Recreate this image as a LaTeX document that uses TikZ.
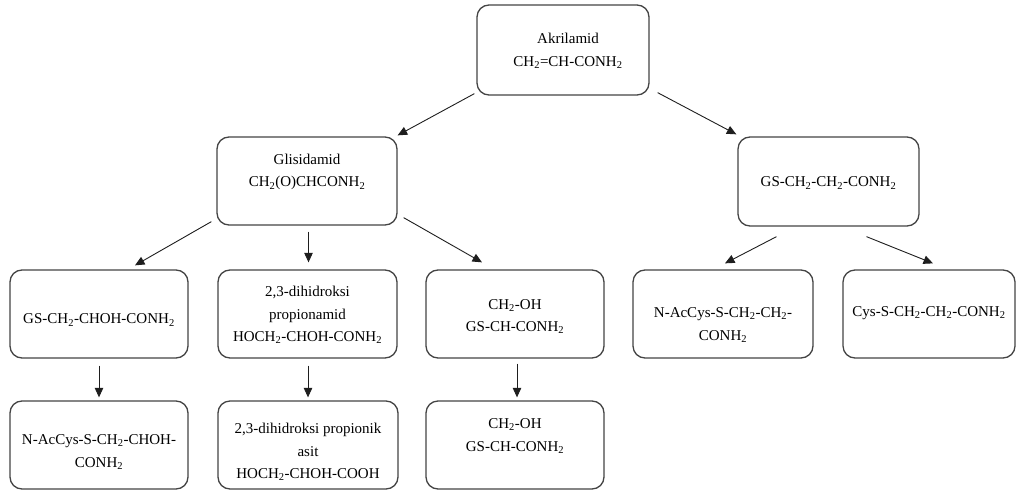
\documentclass[tikz,border=0pt]{standalone}
\usepackage{fontspec}
\setmainfont{Liberation Serif}
\usetikzlibrary{arrows.meta}
\newcommand\sbs[1]{\textsubscript{#1}}
\definecolor{boxgray}{HTML}{444444}
\definecolor{arrgray}{HTML}{1E1E1E}
\begin{document}
\begin{tikzpicture}[x=1pt,y=-1pt,
  box/.style={draw=boxgray, line width=1.3pt, rounded corners=12pt, inner sep=0pt, minimum height=88pt},
  txt/.style={align=center, font=\fontsize{15}{22.5}\selectfont, inner sep=0pt},
  arr/.style={draw=arrgray, line width=0.9pt, -{Triangle[length=9.5pt,width=8.5pt]}}]
\useasboundingbox (0,0) rectangle (1019,492);
% boxes
\node[box, minimum width=172pt, minimum height=90pt] (akr) at (563,50) {};
\node[box, minimum width=180pt] (gli) at (307,181) {};
\node[box, minimum width=181pt, minimum height=89pt] (gsr) at (828.5,181.5) {};
\node[box, minimum width=178pt] (r2a) at (99,314) {};
\node[box, minimum width=179pt] (r2b) at (307.5,314) {};
\node[box, minimum width=178pt] (r2c) at (515,314) {};
\node[box, minimum width=180pt] (r2d) at (723,314) {};
\node[box, minimum width=172pt] (r2e) at (929,314) {};
\node[box, minimum width=178pt] (r3a) at (99,445) {};
\node[box, minimum width=180pt] (r3b) at (308,445) {};
\node[box, minimum width=178pt] (r3c) at (515,445) {};
% texts
\node[txt] (akr-t) at ([xshift=5pt,yshift=-1pt]akr.center) {Akrilamid\\CH\sbs{2}=CH-CONH\sbs{2}};
\node[txt] (gli-t) at ([yshift=9pt]gli.center) {Glisidamid\\CH\sbs{2}(O)CHCONH\sbs{2}};
\node[txt] (gsr-t) at ([yshift=-1.5pt]gsr.center) {GS-CH\sbs{2}-CH\sbs{2}-CONH\sbs{2}};
\node[txt] (r2a-t) at ([yshift=-6pt]r2a.center) {GS-CH\sbs{2}-CHOH-CONH\sbs{2}};
\node[txt] (r2b-t) at ([yshift=-1pt]r2b.center) {2,3-dihidroksi\\propionamid\\HOCH\sbs{2}-CHOH-CONH\sbs{2}};
\node[txt] (r2c-t) at ([yshift=-2.5pt]r2c.center) {CH\sbs{2}-OH\\GS-CH-CONH\sbs{2}};
\node[txt] (r2d-t) at ([yshift=-11pt]r2d.center) {N-AcCys-S-CH\sbs{2}-CH\sbs{2}-\\CONH\sbs{2}};
\node[txt] (r2e-t) at ([yshift=1pt]r2e.center) {Cys-S-CH\sbs{2}-CH\sbs{2}-CONH\sbs{2}};
\node[txt] (r3a-t) at ([yshift=-7pt]r3a.center) {N-AcCys-S-CH\sbs{2}-CHOH-\\CONH\sbs{2}};
\node[txt] (r3b-t) at ([yshift=-7pt]r3b.center) {2,3-dihidroksi propionik\\asit\\HOCH\sbs{2}-CHOH-COOH};
\node[txt] (r3c-t) at ([yshift=9pt]r3c.center) {CH\sbs{2}-OH\\GS-CH-CONH\sbs{2}};
% arrows
\draw[arr] ([xshift=-2pt,yshift=2pt]akr.south west) -- ([yshift=1pt]gli.north east);
\draw[arr] ([xshift=8pt,yshift=3pt]akr.south east) -- ([xshift=-1pt,yshift=2pt]gsr.north west);
\draw[arr] ([xshift=-5pt,yshift=4pt]gli.south west) -- ([xshift=36pt,yshift=4pt]r2a.north);
\draw[arr] ([xshift=1.5pt,yshift=-6pt]gli.south) -- ([xshift=1pt,yshift=7pt]r2b.north);
\draw[arr] ([xshift=6pt,yshift=8pt]gli.south east) -- ([xshift=-33pt,yshift=7pt]r2c.north);
\draw[arr] ([xshift=-52pt,yshift=-10pt]gsr.south) -- ([xshift=2pt,yshift=6pt]r2d.north);
\draw[arr] ([xshift=38pt,yshift=-10pt]gsr.south) -- ([xshift=4pt,yshift=6pt]r2e.north);
\draw[arr] ([yshift=-7pt]r2a.south) -- ([yshift=3pt]r3a.north);
\draw[arr] ([xshift=0.5pt,yshift=-7pt]r2b.south) -- ([yshift=3pt]r3b.north);
\draw[arr] ([xshift=2pt,yshift=-5pt]r2c.south) -- ([xshift=2pt,yshift=3pt]r3c.north);
\end{tikzpicture}
\end{document}
